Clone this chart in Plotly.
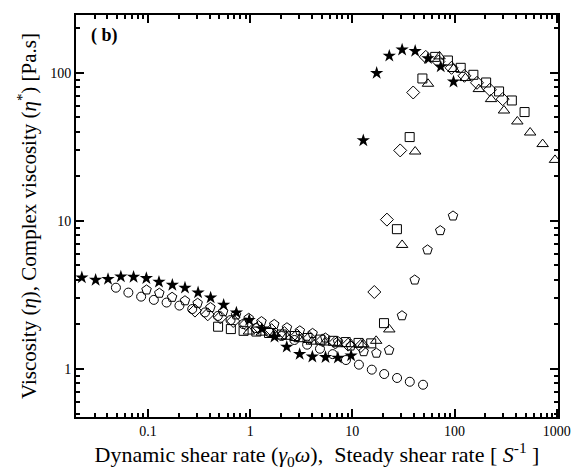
import plotly.graph_objects as go

# ---- data ----
star_x = [0.0225, 0.0307, 0.0406, 0.0542, 0.0722, 0.0963, 0.128, 0.173, 0.230, 0.309, 0.410, 0.55,
          0.733, 0.978, 1.30, 1.73, 2.28, 3.05, 4.06, 5.46, 7.22, 9.72,
          12.8, 17.3, 23.0, 30.7, 41.2, 55.0, 73.3, 97.8]
star_y = [4.14, 3.99, 4.04, 4.20, 4.18, 4.10, 3.87, 3.69, 3.53, 3.28, 3.03, 2.71,
          2.40, 2.14, 1.87, 1.65, 1.41, 1.26, 1.21, 1.20, 1.19, 1.23,
          34.9, 99.5, 130, 143, 140, 125, 110, 87]

circ_x = [0.0485, 0.0642, 0.0856, 0.114, 0.152, 0.203, 0.271, 0.361, 0.482, 0.642, 0.856, 1.14,
          1.52, 2.03, 2.71, 3.61, 4.82, 6.42, 8.66, 11.6, 15.5, 20.5, 27.4, 36.5, 49.2]
circ_y = [3.54, 3.28, 3.08, 2.93, 2.81, 2.68, 2.54, 2.41, 2.28, 2.14, 2.01, 1.89,
          1.78, 1.67, 1.57, 1.46, 1.37, 1.26, 1.15, 1.07, 0.99, 0.925, 0.87, 0.82, 0.783]

diam_x = [0.288, 0.384, 0.511, 0.682, 0.909, 1.21, 1.62, 2.16, 2.88, 3.83, 5.11, 6.82, 9.09, 12.1,
          16.4, 21.8, 29.4, 39.4, 52.3, 69.7, 93.5, 125, 166, 222, 296]
diam_y = [2.48, 2.34, 2.23, 2.11, 2.01, 1.92, 1.83, 1.75, 1.68, 1.62, 1.56, 1.51, 1.46, 1.43,
          3.31, 10.2, 29.9, 73.6, 128, 119, 108, 95.4, 85.6, 76.8, 66.4]

sq_x = [0.485, 0.647, 0.862, 1.15, 1.53, 2.04, 2.73, 3.64, 4.85, 6.47, 8.62, 11.5, 15.3,
        20.4, 27.3, 36.4, 48.5, 64.7, 86.2, 115, 153, 204, 273, 364, 485]
sq_y = [1.93, 1.86, 1.81, 1.79, 1.75, 1.71, 1.67, 1.62, 1.58, 1.55, 1.52, 1.50, 1.49,
        2.04, 8.79, 36.8, 91.5, 128, 121, 108, 96.9, 86.0, 74.8, 65.0, 54.3]

tri_x = [0.972, 1.30, 1.73, 2.28, 3.05, 4.01, 5.38, 7.22, 9.72, 12.8, 17.1, 23.0, 30.7, 41.2,
         55.0, 71.3, 97.8, 128, 173, 228, 305, 412, 550, 729, 963]
tri_y = [1.79, 1.76, 1.72, 1.65, 1.59, 1.53, 1.51, 1.47, 1.47, 1.47, 1.55, 1.85, 6.88, 29.4,
         84.3, 129, 106, 92.1, 77.6, 66.4, 55.6, 46.9, 39.5, 33.0, 25.8]

pent_x = [0.0967, 0.129, 0.172, 0.230, 0.306, 0.408, 0.544, 0.726, 0.967, 1.29, 1.72, 2.29, 3.06,
          4.08, 5.44, 7.25, 9.67, 12.9, 17.2, 22.9, 30.6, 40.8, 54.4, 72.5, 96.7]
pent_y = [3.42, 3.25, 3.05, 2.89, 2.78, 2.60, 2.44, 2.32, 2.20, 2.09, 2.00, 1.90, 1.81,
          1.74, 1.62, 1.53, 1.43, 1.31, 1.28, 1.34, 2.29, 3.99, 6.37, 8.60, 10.8]

x_ticks = [0.1, 1, 10, 100, 1000]
x_tick_labels = ["0.1", "1", "10", "100", "1000"]
y_ticks = [1, 10, 100]
y_tick_labels = ["1", "10", "100"]

series = [
    (circ_x, circ_y, "circle-open", 9, 1),
    (diam_x, diam_y, "diamond-open", 10, 1),
    (pent_x, pent_y, "pentagon-open", 10, 1),
    (sq_x, sq_y, "square-open", 9, 1),
    (tri_x, tri_y, "triangle-up-open", 10, 1),
    (star_x, star_y, "star", 10, 0),
]

fig = go.Figure()
for xs, ys, sym, sz, lw in series:
    fig.add_trace(go.Scatter(
        x=xs, y=ys, mode="markers",
        marker=dict(symbol=sym, size=sz, color="black", line=dict(width=lw, color="black")),
        showlegend=False,
    ))

def minor_vals(lo, hi):
    vals = []
    for e in range(lo, hi):
        for m in range(2, 10):
            vals.append(m * 10 ** e)
    return vals

font_family = "Liberation Serif"
axis_common = dict(
    type="log", showgrid=False, zeroline=False,
    showline=True, linecolor="black", linewidth=2, mirror="ticks",
    ticks="inside", ticklen=8, tickwidth=2, tickcolor="black",
    tickfont=dict(family=font_family, size=14, color="black"),
)

fig.update_xaxes(
    **axis_common,
    range=[-1.705, 3.013],
    tickmode="array", tickvals=x_ticks, ticktext=x_tick_labels,
    minor=dict(ticks="inside", ticklen=4, tickwidth=1.5, tickcolor="black",
               tickmode="array", tickvals=minor_vals(-2, 3), showgrid=False),
    title=dict(text="Dynamic shear rate (<i>γ</i><sub>0</sub><i>ω</i>),  Steady shear rate [ <i>S</i><sup>-1</sup> ]",
               font=dict(family=font_family, size=22, color="black"), standoff=4),
)
fig.update_yaxes(
    **axis_common,
    range=[-0.324, 2.39],
    tickmode="array", tickvals=y_ticks, ticktext=y_tick_labels,
    minor=dict(ticks="inside", ticklen=4, tickwidth=1.5, tickcolor="black",
               tickmode="array", tickvals=minor_vals(-1, 3), showgrid=False),
    title=dict(text="Viscosity (<i>η</i>), Complex viscosity (<i>η</i><sup>*</sup>) [Pa.s]",
               font=dict(family=font_family, size=21, color="black"), standoff=8),
)

fig.add_annotation(
    x=0.026, y=0.948, xref="paper", yref="paper", xanchor="left", yanchor="middle",
    text="<b>( b)</b>", showarrow=False,
    font=dict(family=font_family, size=18, color="black"),
)

fig.update_layout(
    width=582, height=470,
    margin=dict(l=76, r=11, t=15, b=53),
    plot_bgcolor="white", paper_bgcolor="white",
)

fig.write_html("out.html")
